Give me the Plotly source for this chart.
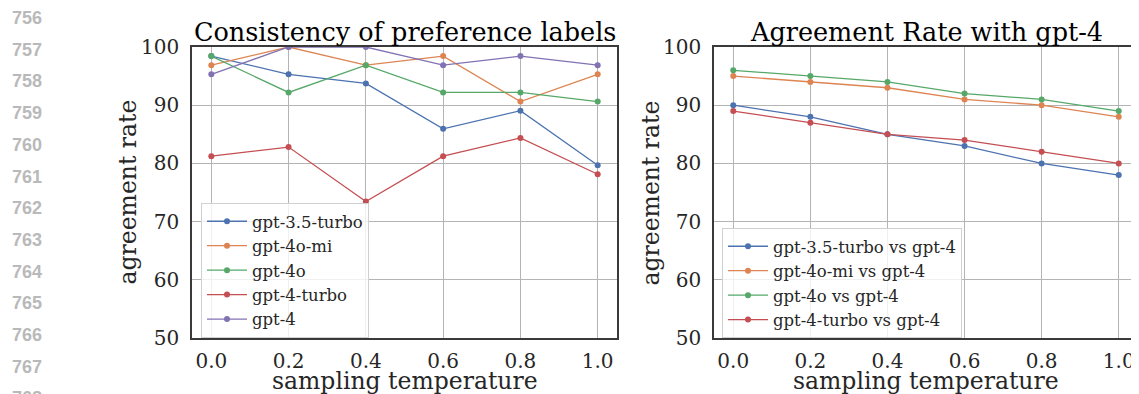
import plotly.graph_objects as go

# ---------------- data ----------------
temps = [0.0, 0.2, 0.4, 0.6, 0.8, 1.0]

left_names = ["gpt-3.5-turbo", "gpt-4o-mi", "gpt-4o", "gpt-4-turbo", "gpt-4"]
gpt35_turbo = [98.44, 95.31, 93.75, 85.94, 89.06, 79.69]
gpt4o_mi = [96.88, 100.0, 96.88, 98.44, 90.63, 95.31]
gpt4o = [98.44, 92.19, 96.88, 92.19, 92.19, 90.63]
gpt4_turbo = [81.25, 82.81, 73.44, 81.25, 84.38, 78.13]
gpt4 = [95.31, 100.0, 100.0, 96.88, 98.44, 96.88]
left_series = [gpt35_turbo, gpt4o_mi, gpt4o, gpt4_turbo, gpt4]

right_names = ["gpt-3.5-turbo vs gpt-4", "gpt-4o-mi vs gpt-4",
               "gpt-4o vs gpt-4", "gpt-4-turbo vs gpt-4"]
vs_gpt35_turbo = [90, 88, 85, 83, 80, 78]
vs_gpt4o_mi = [95, 94, 93, 91, 90, 88]
vs_gpt4o = [96, 95, 94, 92, 91, 89]
vs_gpt4_turbo = [89, 87, 85, 84, 82, 80]
right_series = [vs_gpt35_turbo, vs_gpt4o_mi, vs_gpt4o, vs_gpt4_turbo]

x_ticks = [0.0, 0.2, 0.4, 0.6, 0.8, 1.0]
x_ticklabels = ["0.0", "0.2", "0.4", "0.6", "0.8", "1.0"]
y_ticks = [50, 60, 70, 80, 90, 100]

titles = ["Consistency of preference labels", "Agreement Rate with gpt-4"]
x_label = "sampling temperature"
y_label = "agreement rate"
line_numbers = list(range(756, 769))

colors = ["#4C72B0", "#DD8452", "#55A868", "#C44E52", "#8172B3"]

# ---------------- layout helpers ----------------
# the page body has an 8px margin, so the figure starts at (8, 8) in the window
OFF = 8
W, H = 1139 - OFF, 394 - OFF
def px(x):
    return (x - OFF) / W
def py(y):
    return (H - (y - OFF)) / H

FONT = "DejaVu Serif"
fig = go.Figure()

for name, vals, c in zip(left_names, left_series, colors):
    fig.add_trace(go.Scatter(x=temps, y=vals, name=name, mode="lines+markers",
                             line=dict(color=c, width=1.3),
                             marker=dict(color=c, size=6),
                             xaxis="x", yaxis="y", legend="legend"))
for name, vals, c in zip(right_names, right_series, colors):
    fig.add_trace(go.Scatter(x=temps, y=vals, name=name, mode="lines+markers",
                             line=dict(color=c, width=1.3),
                             marker=dict(color=c, size=6),
                             xaxis="x2", yaxis="y2", legend="legend2"))

axis_common = dict(showline=True, linecolor="#3a3a3a", linewidth=1.5, mirror=True,
                   showgrid=True, gridcolor="#b4b4b4", gridwidth=1,
                   ticks="",
                   tickfont=dict(family=FONT, size=20, color="#262626"),
                   zeroline=False, automargin=False)

ydom = [py(338), py(47)]
xcommon = dict(range=[-0.05, 1.05], tickvals=x_ticks, ticktext=x_ticklabels,
               ticklabelstandoff=4, **axis_common)
ycommon = dict(range=[50, 100], tickvals=y_ticks, ticklabelstandoff=7, **axis_common)
legend_common = dict(xanchor="left", yanchor="top",
                     bgcolor="rgba(255,255,255,0.8)", bordercolor="#d0d0d0", borderwidth=1,
                     itemwidth=40,
                     font=dict(family=FONT, size=16.5, color="#262626"))
fig.update_layout(
    width=W, height=H,
    margin=dict(l=0, r=0, t=0, b=0),
    paper_bgcolor="white", plot_bgcolor="white",
    font=dict(family=FONT, color="#262626"),
    xaxis=dict(domain=[px(192), px(617)], anchor="y", **xcommon),
    yaxis=dict(domain=ydom, anchor="x", **ycommon),
    xaxis2=dict(domain=[px(714), px(1138)], anchor="y2", **xcommon),
    yaxis2=dict(domain=ydom, anchor="x2", **ycommon),
    legend=dict(x=px(201), y=py(203), **legend_common),
    legend2=dict(x=px(722), y=py(228), **legend_common),
    showlegend=True,
)

ann = []
# titles
for t, cx in zip(titles, (404.5, 926)):
    ann.append(dict(text=t, x=px(cx), y=py(32), xref="paper", yref="paper",
                    xanchor="center", yanchor="middle", showarrow=False,
                    font=dict(family=FONT, size=25.5, color="black")))
# axis labels
for cx in (404.5, 926):
    ann.append(dict(text=x_label, x=px(cx), y=py(381), xref="paper", yref="paper",
                    xanchor="center", yanchor="middle", showarrow=False,
                    font=dict(family=FONT, size=23.5, color="#262626")))
for cx in (127, 650):
    ann.append(dict(text=y_label, x=px(cx), y=py(192.5), xref="paper", yref="paper",
                    xanchor="center", yanchor="middle", showarrow=False, textangle=-90,
                    font=dict(family=FONT, size=23.5, color="#262626")))
# line numbers of the page margin
for i, n in enumerate(line_numbers):
    ann.append(dict(text="<b>%d</b>" % n, x=px(27), y=py(18 + i * 31.7), xref="paper", yref="paper",
                    xanchor="center", yanchor="middle", showarrow=False,
                    font=dict(family="Liberation Sans", size=18, color="#b9b9b9")))
fig.update_layout(annotations=ann)

fig.write_html("out.html")
